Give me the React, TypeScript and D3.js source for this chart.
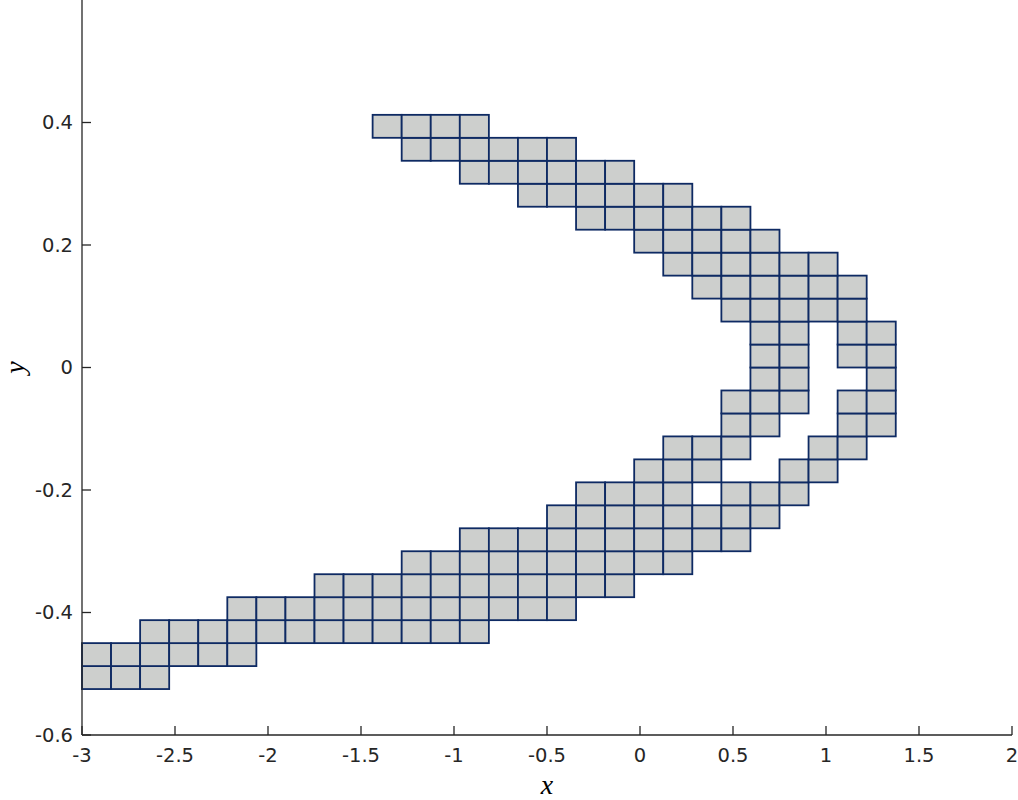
import React from "react";
import * as d3 from "d3";

// Grid of boxes: x in [-3, 2], y in [-0.6, 0.6], 32 x 32 subdivisions
const gridXMin = -3;
const gridXMax = 2;
const gridYMin = -0.6;
const gridYMax = 0.6;
const gridN = 32;

// Row index (from bottom) and runs of column indices [first, last] that hold a box
const boxRows = [2, 3, 4, 5, 6, 7, 8, 9, 10, 11, 12, 13, 14, 15, 16, 17, 18, 19, 20, 21, 22, 23, 24, 25, 26];
const boxRuns: number[][][] = [
  [[0, 2]],
  [[0, 5]],
  [[2, 13]],
  [[5, 16]],
  [[8, 18]],
  [[11, 20]],
  [[13, 22]],
  [[16, 23]],
  [[17, 20], [22, 24]],
  [[19, 21], [24, 25]],
  [[20, 22], [25, 26]],
  [[22, 23], [26, 27]],
  [[22, 24], [26, 27]],
  [[23, 24], [27, 27]],
  [[23, 24], [26, 27]],
  [[23, 24], [26, 27]],
  [[22, 26]],
  [[21, 26]],
  [[20, 25]],
  [[19, 23]],
  [[17, 22]],
  [[15, 20]],
  [[13, 18]],
  [[11, 16]],
  [[10, 13]],
];

const xTicks = [-3, -2.5, -2, -1.5, -1, -0.5, 0, 0.5, 1, 1.5, 2];
const yTicks = [-0.6, -0.4, -0.2, 0, 0.2, 0.4];

const W = 1018;
const H = 800;
const left = 82;
const right = 1012;
const top = 0;
const bottom = 735;

export default function App() {
  const x = d3.scaleLinear().domain([gridXMin, gridXMax]).range([left, right]);
  const y = d3.scaleLinear().domain([gridYMin, gridYMax]).range([bottom, top]);
  const dx = (gridXMax - gridXMin) / gridN;
  const dy = (gridYMax - gridYMin) / gridN;

  const boxes: { x0: number; y0: number }[] = [];
  boxRows.forEach((r, i) => {
    boxRuns[i].forEach(([a, b]) => {
      for (let c = a; c <= b; c++) {
        boxes.push({ x0: gridXMin + c * dx, y0: gridYMin + r * dy });
      }
    });
  });

  const axisColor = "#262626";
  const tickLen = 9;
  const fontFamily = "'DejaVu Sans', sans-serif";

  return (
    <svg
      width={W}
      height={H}
      style={{ position: "absolute", left: 0, top: 0, background: "#fff" }}
    >
      <g>
        {boxes.map((b, i) => (
          <rect
            key={i}
            x={x(b.x0)}
            y={y(b.y0 + dy)}
            width={x(b.x0 + dx) - x(b.x0)}
            height={y(b.y0) - y(b.y0 + dy)}
            fill="#cdcfcd"
            stroke="#0e2a63"
            strokeWidth={1.8}
          />
        ))}
      </g>
      {/* axes */}
      <line x1={left} y1={top} x2={left} y2={bottom} stroke={axisColor} strokeWidth={1.3} />
      <line x1={left} y1={bottom} x2={right} y2={bottom} stroke={axisColor} strokeWidth={1.3} />
      {xTicks.map((t) => (
        <g key={"x" + t}>
          <line x1={x(t)} x2={x(t)} y1={bottom} y2={bottom - tickLen} stroke={axisColor} strokeWidth={1.3} />
          <text
            x={x(t)}
            y={bottom + 27}
            textAnchor="middle"
            fontFamily={fontFamily}
            fontSize={19.5}
            fill={axisColor}
          >
            {String(t)}
          </text>
        </g>
      ))}
      {yTicks.map((t) => (
        <g key={"y" + t}>
          <line x1={left} x2={left + tickLen} y1={y(t)} y2={y(t)} stroke={axisColor} strokeWidth={1.3} />
          <text
            x={left - 9}
            y={y(t)}
            dy="0.35em"
            textAnchor="end"
            fontFamily={fontFamily}
            fontSize={19.5}
            fill={axisColor}
          >
            {String(t)}
          </text>
        </g>
      ))}
      <text
        x={(left + right) / 2}
        y={794}
        textAnchor="middle"
        fontFamily="'Liberation Serif', serif"
        fontStyle="italic"
        fontSize={28}
        fill="#000"
      >
        x
      </text>
      <text
        transform={`translate(${24},${(top + bottom) / 2}) rotate(-90)`}
        textAnchor="middle"
        fontFamily="'Liberation Serif', serif"
        fontStyle="italic"
        fontSize={28}
        fill="#000"
      >
        y
      </text>
    </svg>
  );
}
